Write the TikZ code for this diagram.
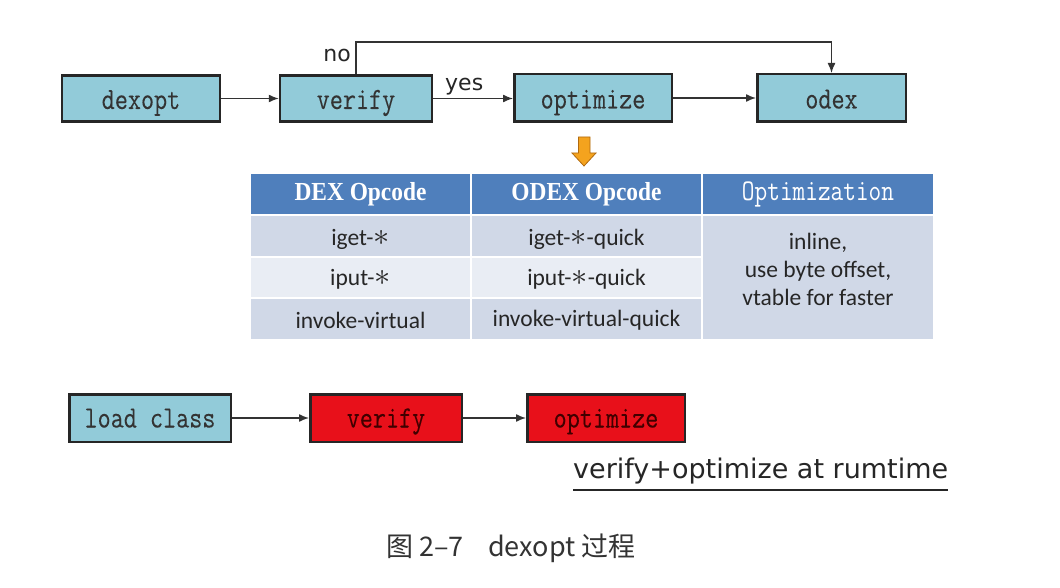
\documentclass[tikz,border=0pt]{standalone}
\usepackage{fontspec}
\usetikzlibrary{arrows.meta,calc}
\newfontfamily\cjkf{Noto Sans CJK SC}
\newfontfamily\djv{DejaVu Sans}
\newfontfamily\calib{Carlito}
\newfontfamily\tser[FakeStretch=0.9]{Liberation Serif}
\newfontfamily\monof[FakeStretch=0.82,FakeBold=0.12]{Latin Modern Mono}
\newfontfamily\monoh[FakeStretch=0.82]{Latin Modern Mono}
\definecolor{boxblue}{HTML}{92CBD9}
\definecolor{boxred}{HTML}{E8101A}
\definecolor{hdrblue}{HTML}{4F7FBC}
\definecolor{rowdark}{HTML}{D0D8E7}
\definecolor{rowlight}{HTML}{E9EDF4}
\definecolor{arrorange}{HTML}{F4A31E}
\definecolor{arroutline}{HTML}{B06A10}
\newcommand{\astk}{\scalebox{1.3}{$\ast$}}
\begin{document}
\begin{tikzpicture}[x=1pt,y=-1pt,
 procbox/.style={draw=black!85, line width=2.5pt, fill=boxblue, inner sep=0pt,
   text height=21pt, text depth=0pt,
   font=\monof\fontsize{31}{34}\selectfont, text=black!80},
 redbox/.style={procbox, fill=boxred, text=black!75!red},
 conn/.style={draw=black!80, line width=1.4pt, -{Latex[length=10pt,width=8pt]}},
 cell/.style={draw=white, line width=2pt, inner sep=0pt,
   font=\calib\fontsize{23.5}{28}\selectfont, text=black!85},
 hdr/.style={cell, fill=hdrblue, text=white, minimum height=42pt},
 lab/.style={font=\djv\fontsize{22}{26}\selectfont, text=black!85, inner sep=0pt}
]
\useasboundingbox (0,0) rectangle (1060,588);
\fill[white] (0,0) rectangle (1060,588);

% top flow
\node[procbox, minimum width=158pt, minimum height=46pt] (dexopt) at (141,98.5) {dexopt};
\node[procbox, minimum width=152pt, minimum height=46pt] (verify) at (356,98.5) {verify};
\node[procbox, minimum width=157.5pt, minimum height=47.5pt] (optimize) at (593,98) {optimize};
\node[procbox, minimum width=148.5pt, minimum height=47.5pt] (odex) at (831.5,98) {odex};

\draw[conn] (dexopt.east) -- (verify.west);
\draw[conn] (verify.east) -- (optimize.west |- verify.east);
\draw[conn] (optimize.east) -- (odex.west);
\coordinate (toprail) at (0,42);
\draw[conn] (verify.north) |- (toprail -| odex.north) -- (odex.north);

\node[lab, anchor=base east] (no) at (351,62) {no};
\node[lab, anchor=base west] (yes) at (445,91) {yes};

% orange block arrow
\filldraw[fill=arrorange, draw=arroutline, line width=0.8pt]
  (578.5,137) -- (590,137) -- (590,153) -- (596,153) -- (584,166)
  -- (572,153) -- (578.5,153) -- cycle;

% table
\node[hdr, minimum width=221pt, font=\tser\bfseries\fontsize{26}{28}\selectfont] (h1) at (360.5,194) {DEX Opcode};
\node[hdr, minimum width=231pt, font=\tser\bfseries\fontsize{26}{28}\selectfont] (h2) at (586.5,194) {ODEX Opcode};
\node[hdr, minimum width=232pt, font=\monoh\fontsize{30}{32}\selectfont, text height=20pt, text depth=6pt] (h3) at (818,194) {Optimization};

\node[cell, fill=rowdark, minimum width=221pt, minimum height=42pt] (r1a) at (360.5,236) {};
\node[cell, fill=rowdark, minimum width=231pt, minimum height=42pt] (r1b) at (586.5,236) {};
\node[cell, fill=rowlight, minimum width=221pt, minimum height=41pt] (r2a) at (360.5,277.5) {};
\node[cell, fill=rowlight, minimum width=231pt, minimum height=41pt] (r2b) at (586.5,277.5) {};
\node[cell, fill=rowdark, minimum width=221pt, minimum height=42pt] (r3a) at (360.5,319) {};
\node[cell, fill=rowdark, minimum width=231pt, minimum height=42pt] (r3b) at (586.5,319) {};
\node[cell, fill=rowdark, minimum width=232pt, minimum height=125pt] (optcell) at (818,277.5) {};

\node[cell, draw=none] (t1a) at (360.5,239) {iget-\astk};
\node[cell, draw=none] (t1b) at (586.5,239) {iget-\astk-quick};
\node[cell, draw=none] (t2a) at (360.5,279) {iput-\astk};
\node[cell, draw=none] (t2b) at (586.5,279) {iput-\astk-quick};
\node[cell, draw=none] (t3a) at (360.5,320) {invoke-virtual};
\node[cell, draw=none] (t3b) at (586.5,320) {invoke-virtual-quick};
\node[cell, draw=none, align=center] (opttext) at (818,269) {inline,\\use byte offset,\\vtable for faster};

% bottom flow
\node[procbox, minimum width=161.5pt, minimum height=47.5pt, text height=19pt] (load) at (150,418) {load class};
\node[redbox, minimum width=151.5pt, minimum height=47.5pt, text height=19pt] (verify2) at (386,418) {verify};
\node[redbox, minimum width=157.5pt, minimum height=47.5pt, text height=19pt] (optimize2) at (606,418) {optimize};
\draw[conn] (load.east) -- (verify2.west);
\draw[conn] (verify2.east) -- (optimize2.west);

\node[font=\djv\fontsize{27}{30}\selectfont, text=black!85, anchor=base west, inner sep=0pt] (rt) at (573,478) {verify+optimize at rumtime};
\coordinate (ulA) at (573,490);
\coordinate (ulB) at (948,490);
\draw[line width=2.5pt, black!85] (ulA) -- (ulB);

% caption
\node[font=\cjkf\fontsize{27}{30}\selectfont, text=black!80, inner sep=0pt] (cap) at (511,548) {图 2–7\hspace{0.9em}dexopt 过程};
\end{tikzpicture}
\end{document}
